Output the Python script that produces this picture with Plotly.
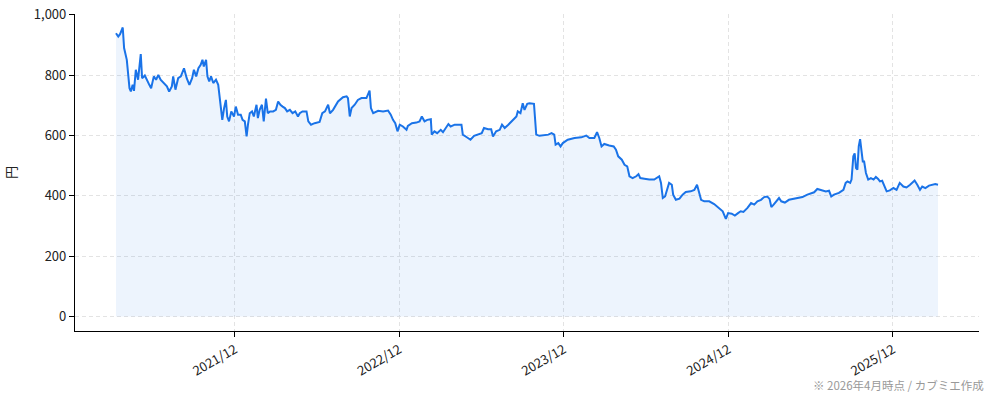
import plotly.graph_objects as go

dates = [
    "2021-03-12","2021-03-17","2021-03-21","2021-03-27","2021-03-30","2021-04-05","2021-04-11","2021-04-14",
    "2021-04-18","2021-04-21","2021-04-25","2021-04-30","2021-05-06","2021-05-09","2021-05-15","2021-05-19",
    "2021-05-25","2021-05-29","2021-06-04","2021-06-09","2021-06-14","2021-06-19","2021-06-25","2021-07-03",
    "2021-07-08","2021-07-14","2021-07-17","2021-07-22","2021-07-28","2021-08-03","2021-08-10","2021-08-16",
    "2021-08-22","2021-08-28","2021-09-01","2021-09-06","2021-09-11","2021-09-16","2021-09-20","2021-09-23",
    "2021-09-28","2021-10-01","2021-10-05","2021-10-09","2021-10-14","2021-10-20","2021-10-25","2021-10-29",
    "2021-11-03","2021-11-07","2021-11-11","2021-11-14","2021-11-18","2021-11-23","2021-11-29","2021-12-03",
    "2021-12-08","2021-12-14","2021-12-18","2021-12-23","2021-12-27","2021-12-30","2022-01-03","2022-01-08",
    "2022-01-12","2022-01-18","2022-01-21","2022-01-25","2022-01-30","2022-02-03","2022-02-08","2022-02-12",
    "2022-02-17","2022-02-24","2022-03-02","2022-03-07","2022-03-12","2022-03-17","2022-03-22","2022-03-27",
    "2022-04-02","2022-04-08","2022-04-14","2022-04-20","2022-04-24","2022-04-30","2022-05-09","2022-05-13",
    "2022-05-19","2022-05-27","2022-06-07","2022-06-13","2022-06-19","2022-06-26","2022-06-30","2022-07-07",
    "2022-07-18","2022-07-29","2022-08-06","2022-08-09","2022-08-13","2022-08-17","2022-08-24","2022-08-31",
    "2022-09-08","2022-09-19","2022-09-26","2022-09-29","2022-10-04","2022-10-15","2022-10-26","2022-11-06",
    "2022-11-12","2022-11-17","2022-11-22","2022-11-27","2022-12-02","2022-12-09","2022-12-17","2022-12-20",
    "2022-12-29","2023-01-08","2023-01-15","2023-01-20","2023-01-26","2023-02-01","2023-02-09","2023-02-11",
    "2023-02-17","2023-02-23","2023-03-03","2023-03-08","2023-03-13","2023-03-20","2023-03-25","2023-04-03",
    "2023-04-18","2023-04-21","2023-04-29","2023-05-08","2023-05-16","2023-05-24","2023-06-02","2023-06-07",
    "2023-06-16","2023-06-23","2023-06-27","2023-07-04","2023-07-12","2023-07-17","2023-07-23","2023-07-31",
    "2023-08-10","2023-08-18","2023-08-21","2023-08-27","2023-09-01","2023-09-05","2023-09-11","2023-09-16",
    "2023-09-26","2023-10-01","2023-10-08","2023-10-18","2023-10-28","2023-11-04","2023-11-10","2023-11-13",
    "2023-11-19","2023-11-24","2023-11-29","2023-12-10","2023-12-25","2024-01-09","2024-01-20","2024-01-27",
    "2024-02-07","2024-02-13","2024-02-18","2024-02-23","2024-02-29","2024-03-11","2024-03-21","2024-03-26",
    "2024-03-31","2024-04-08","2024-04-14","2024-04-20","2024-04-25","2024-05-02","2024-05-10","2024-05-15",
    "2024-05-19","2024-05-28","2024-06-08","2024-06-19","2024-06-30","2024-07-04","2024-07-08","2024-07-13",
    "2024-07-17","2024-07-22","2024-07-28","2024-07-31","2024-08-06","2024-08-14","2024-08-21","2024-08-28",
    "2024-09-08","2024-09-16","2024-09-22","2024-09-25","2024-10-01","2024-10-08","2024-10-19","2024-10-30",
    "2024-11-10","2024-11-18","2024-11-25","2024-11-30","2024-12-08","2024-12-15","2024-12-22","2024-12-28",
    "2025-01-03","2025-01-12","2025-01-20","2025-01-27","2025-02-03","2025-02-11","2025-02-18","2025-02-25",
    "2025-03-02","2025-03-06","2025-03-11","2025-03-16","2025-03-23","2025-03-28","2025-04-05","2025-04-14",
    "2025-04-24","2025-05-03","2025-05-14","2025-05-25","2025-06-02","2025-06-09","2025-06-16","2025-06-25",
    "2025-07-05","2025-07-12","2025-07-17","2025-07-23","2025-08-03","2025-08-13","2025-08-18","2025-08-22",
    "2025-08-28","2025-08-31","2025-09-04","2025-09-07","2025-09-10","2025-09-13","2025-09-16","2025-09-19",
    "2025-09-22","2025-09-25","2025-09-28","2025-10-02","2025-10-07","2025-10-13","2025-10-19","2025-10-24",
    "2025-10-29","2025-11-02","2025-11-07","2025-11-12","2025-11-17","2025-11-24","2025-12-02","2025-12-09",
    "2025-12-16","2025-12-24","2025-12-31","2026-01-08","2026-01-13","2026-01-18","2026-01-24","2026-01-30",
    "2026-02-04","2026-02-11","2026-02-19","2026-02-26","2026-03-05","2026-03-11",
]

prices = [
    939,928,936,958,890,851,757,746,
    768,748,818,785,870,790,799,785,
    768,757,796,785,801,785,774,763,
    746,763,796,752,790,796,823,790,
    768,790,818,796,823,834,851,829,
    851,796,779,796,774,785,768,707,
    652,691,718,663,647,680,663,696,
    669,669,652,647,597,636,674,680,
    663,702,658,685,702,647,722,674,
    680,680,685,713,702,696,691,680,
    685,674,680,663,674,680,680,647,
    636,641,645,674,680,702,674,685,
    713,727,730,724,663,691,702,718,
    724,724,749,691,674,682,680,683,
    669,652,641,614,636,630,619,632,
    641,643,647,663,647,652,654,603,
    614,608,619,611,621,638,630,636,
    636,603,595,586,599,603,608,625,
    621,621,597,614,619,636,625,636,
    652,663,680,674,707,685,705,707,
    705,603,599,600,603,608,603,570,
    575,564,575,586,592,594,600,592,
    592,611,592,564,572,567,564,553,
    531,520,503,498,465,459,465,472,
    459,457,454,454,465,443,393,398,
    415,443,437,404,387,391,404,413,
    415,420,437,420,387,382,382,373,
    360,349,324,343,341,335,343,349,
    347,360,376,371,382,387,396,398,
    390,363,371,382,393,382,378,387,
    390,393,396,404,407,412,423,418,
    415,417,398,404,410,420,443,448,
    443,454,531,541,492,487,564,588,
    541,514,514,476,454,459,454,463,
    456,448,450,431,415,418,426,420,
    443,431,428,437,443,451,437,420,
    431,426,434,437,439,437,
]

tick_vals = ["2021-12-01","2022-12-01","2023-12-01","2024-12-01","2025-12-01"]
tick_text = ["2021/12","2022/12","2023/12","2024/12","2025/12"]
y_ticks = [0, 200, 400, 600, 800, 1000]

FONT = "Noto Sans CJK JP"

fig = go.Figure()
fig.add_trace(go.Scatter(
    x=dates, y=prices, mode="lines",
    line=dict(color="#1a73e8", width=2),
    fill="tozeroy", fillcolor="rgba(26,115,232,0.08)",
    hoverinfo="x+y", showlegend=False,
))

fig.update_layout(
    width=994, height=400,
    margin=dict(l=75, r=15, t=14, b=69),
    paper_bgcolor="white", plot_bgcolor="white",
    font=dict(family=FONT, size=13, color="#222"),
    xaxis=dict(
        type="date", automargin=False,
        range=["2020-12-11", "2026-06-10"],
        tickvals=tick_vals, ticktext=tick_text,
        tickangle=-30,
        showgrid=True, gridcolor="#e3e3e3", griddash="4px,3px", gridwidth=1,
        showline=True, linecolor="black", linewidth=1.2,
        ticks="outside", ticklen=5, tickcolor="black",
        zeroline=False,
        tickfont=dict(size=13, color="#222"),
    ),
    yaxis=dict(
        automargin=False,
        range=[-47.75, 1002.75],
        tickvals=y_ticks, tickformat=",d",
        showgrid=True, gridcolor="#e3e3e3", griddash="4px,3px", gridwidth=1,
        showline=True, linecolor="black", linewidth=1.2,
        ticks="outside", ticklen=5, tickcolor="black",
        zeroline=False,
        title=dict(text="円", standoff=14, font=dict(size=13, color="#222")),
        tickfont=dict(size=13, color="#222"),
    ),
    annotations=[dict(
        text="※ 2026年4月時点 / カブミエ作成",
        xref="paper", yref="paper", x=1.008, y=-0.14,
        xanchor="right", yanchor="top", showarrow=False,
        font=dict(size=11.5, color="#999", family=FONT),
    )],
)

fig.write_html("out.html")
